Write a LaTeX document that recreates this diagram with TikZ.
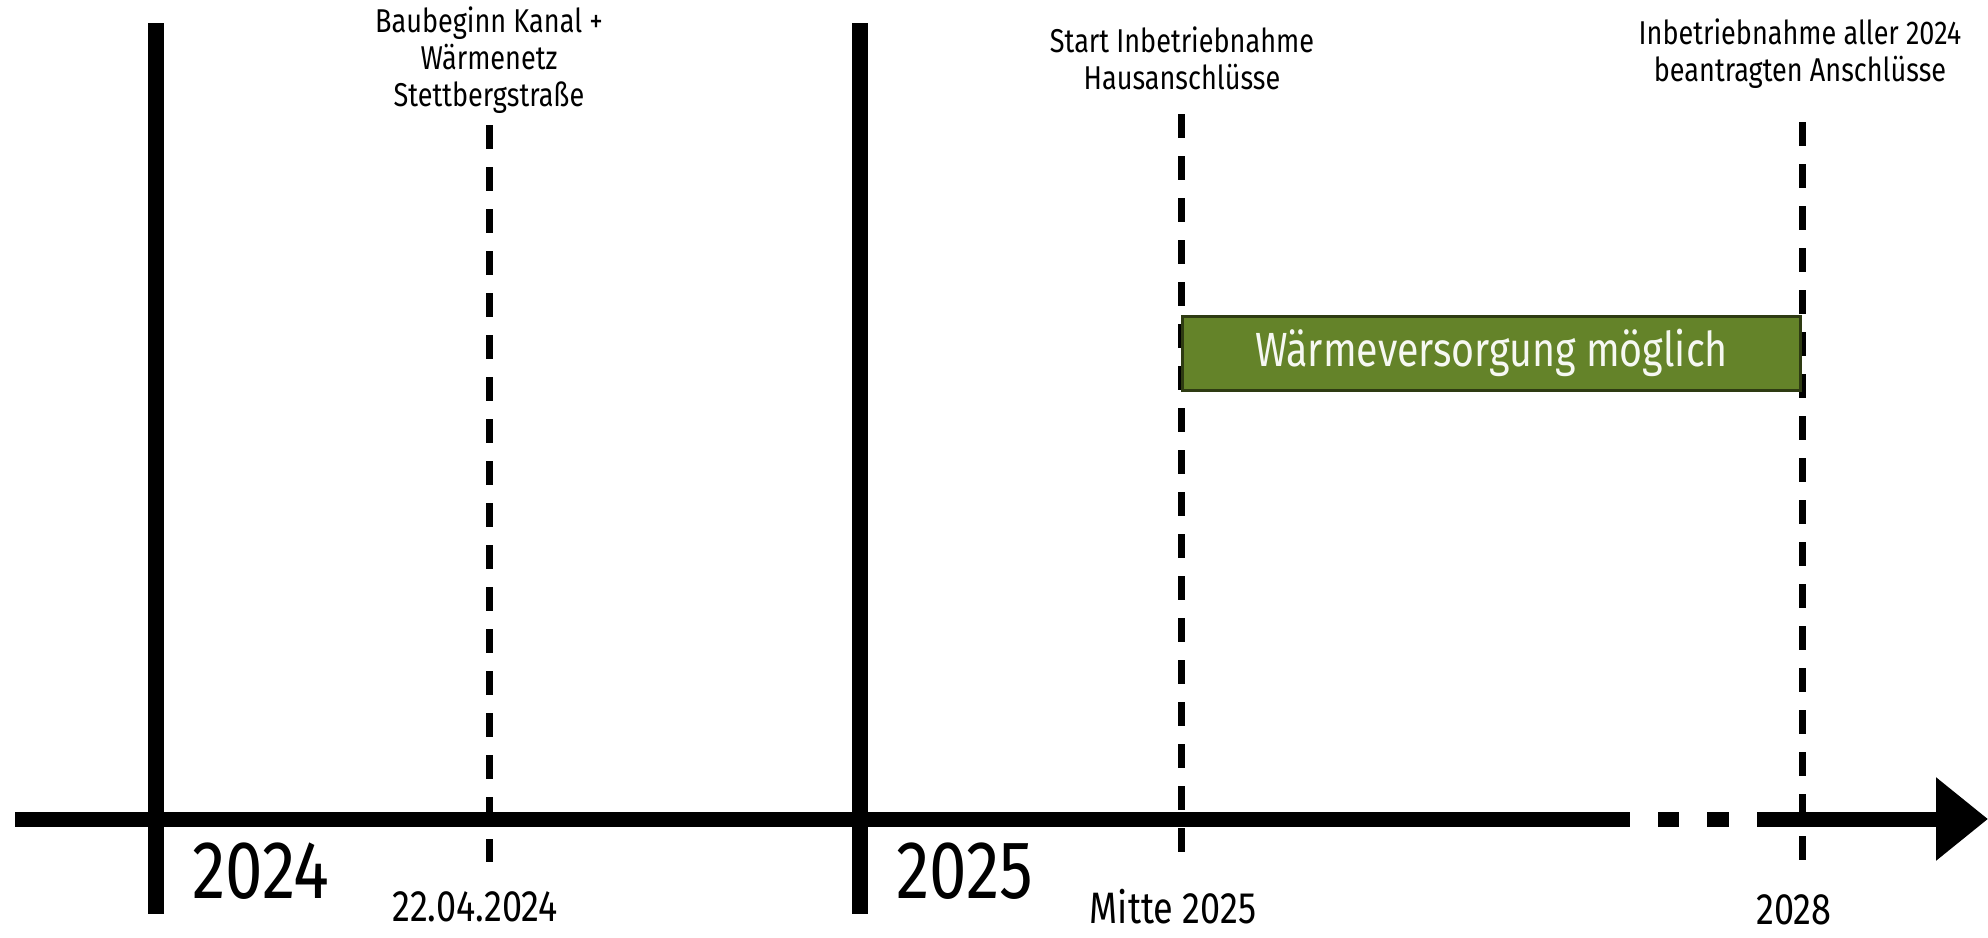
\documentclass[tikz,border=0pt]{standalone}
\usepackage{fontspec}
\setmainfont[FakeStretch=0.82]{Fira Sans}
\usetikzlibrary{arrows.meta}
\definecolor{waermegreen}{HTML}{648329}
\definecolor{waermeborder}{HTML}{2E3B12}
\tikzset{
  axisline/.style={line width=15pt},
  yearline/.style={line width=16pt},
  eventline/.style={line width=7pt, dash pattern=on 24pt off 18pt},
  toplabel/.style={align=center, inner sep=0pt, font=\fontsize{33}{37}\selectfont},
  datelabel/.style={inner sep=0pt, font=\fontsize{44}{50}\selectfont},
  yearlabel/.style={inner sep=0pt, font=\fontsize{82}{90}\selectfont},
}
\begin{document}
\begin{tikzpicture}[x=1pt,y=-1pt]
\useasboundingbox (0,0) rectangle (1988,937);
% time axis
\coordinate (axstart) at (15,819);
\coordinate (axgap) at (1630,819);
\coordinate (dotA1) at (1658,819);
\coordinate (dotA2) at (1679,819);
\coordinate (dotB1) at (1707,819);
\coordinate (dotB2) at (1729,819);
\coordinate (axresume) at (1757,819);
\coordinate (axtip) at (1988,819);
\draw[axisline] (axstart) -- (axgap);
\draw[axisline] (dotA1) -- (dotA2);
\draw[axisline] (dotB1) -- (dotB2);
\draw[axisline, -{Triangle[length=52pt,width=80pt]}] (axresume) -- (axtip);
% years
\coordinate (y24top) at (156,23);
\coordinate (y24bot) at (156,914);
\coordinate (y25top) at (860,23);
\coordinate (y25bot) at (860,914);
\draw[yearline] (y24top) -- (y24bot);
\draw[yearline] (y25top) -- (y25bot);
\node[yearlabel] (year24) at (261,871) {2024};
\node[yearlabel] (year25) at (965,871) {2025};
% events
\coordinate (ev1top) at (489,125);
\coordinate (ev1bot) at (489,862);
\coordinate (ev2top) at (1181,114);
\coordinate (ev2bot) at (1181,852);
\coordinate (ev3top) at (1802,122);
\coordinate (ev3bot) at (1802,862);
\draw[eventline] (ev1top) -- (ev1bot);
\draw[eventline] (ev2top) -- (ev2bot);
\draw[eventline] (ev3top) -- (ev3bot);
\node[toplabel] (baubeginn) at (489,60) {Baubeginn Kanal +\\Wärmenetz\\Stettbergstraße};
\node[toplabel] (start) at (1182,58) {Start Inbetriebnahme\\Hausanschlüsse};
\node[toplabel] (alle) at (1800,54) {Inbetriebnahme aller 2024\\beantragten Anschlüsse};
\node[datelabel] (date1) at (475,907) {22.04.2024};
\node[datelabel] (date2) at (1173,907) {Mitte 2025};
\node[datelabel] (date3) at (1794,910) {2028};
% heat supply bar
\node[draw=waermeborder, fill=waermegreen, line width=3pt, minimum width=618pt, minimum height=74pt,
  text=white!94!waermegreen, font=\fontsize{48}{54}\selectfont] (versorgung) at (1491.5,353) {Wärmeversorgung möglich};
\end{tikzpicture}
\end{document}
